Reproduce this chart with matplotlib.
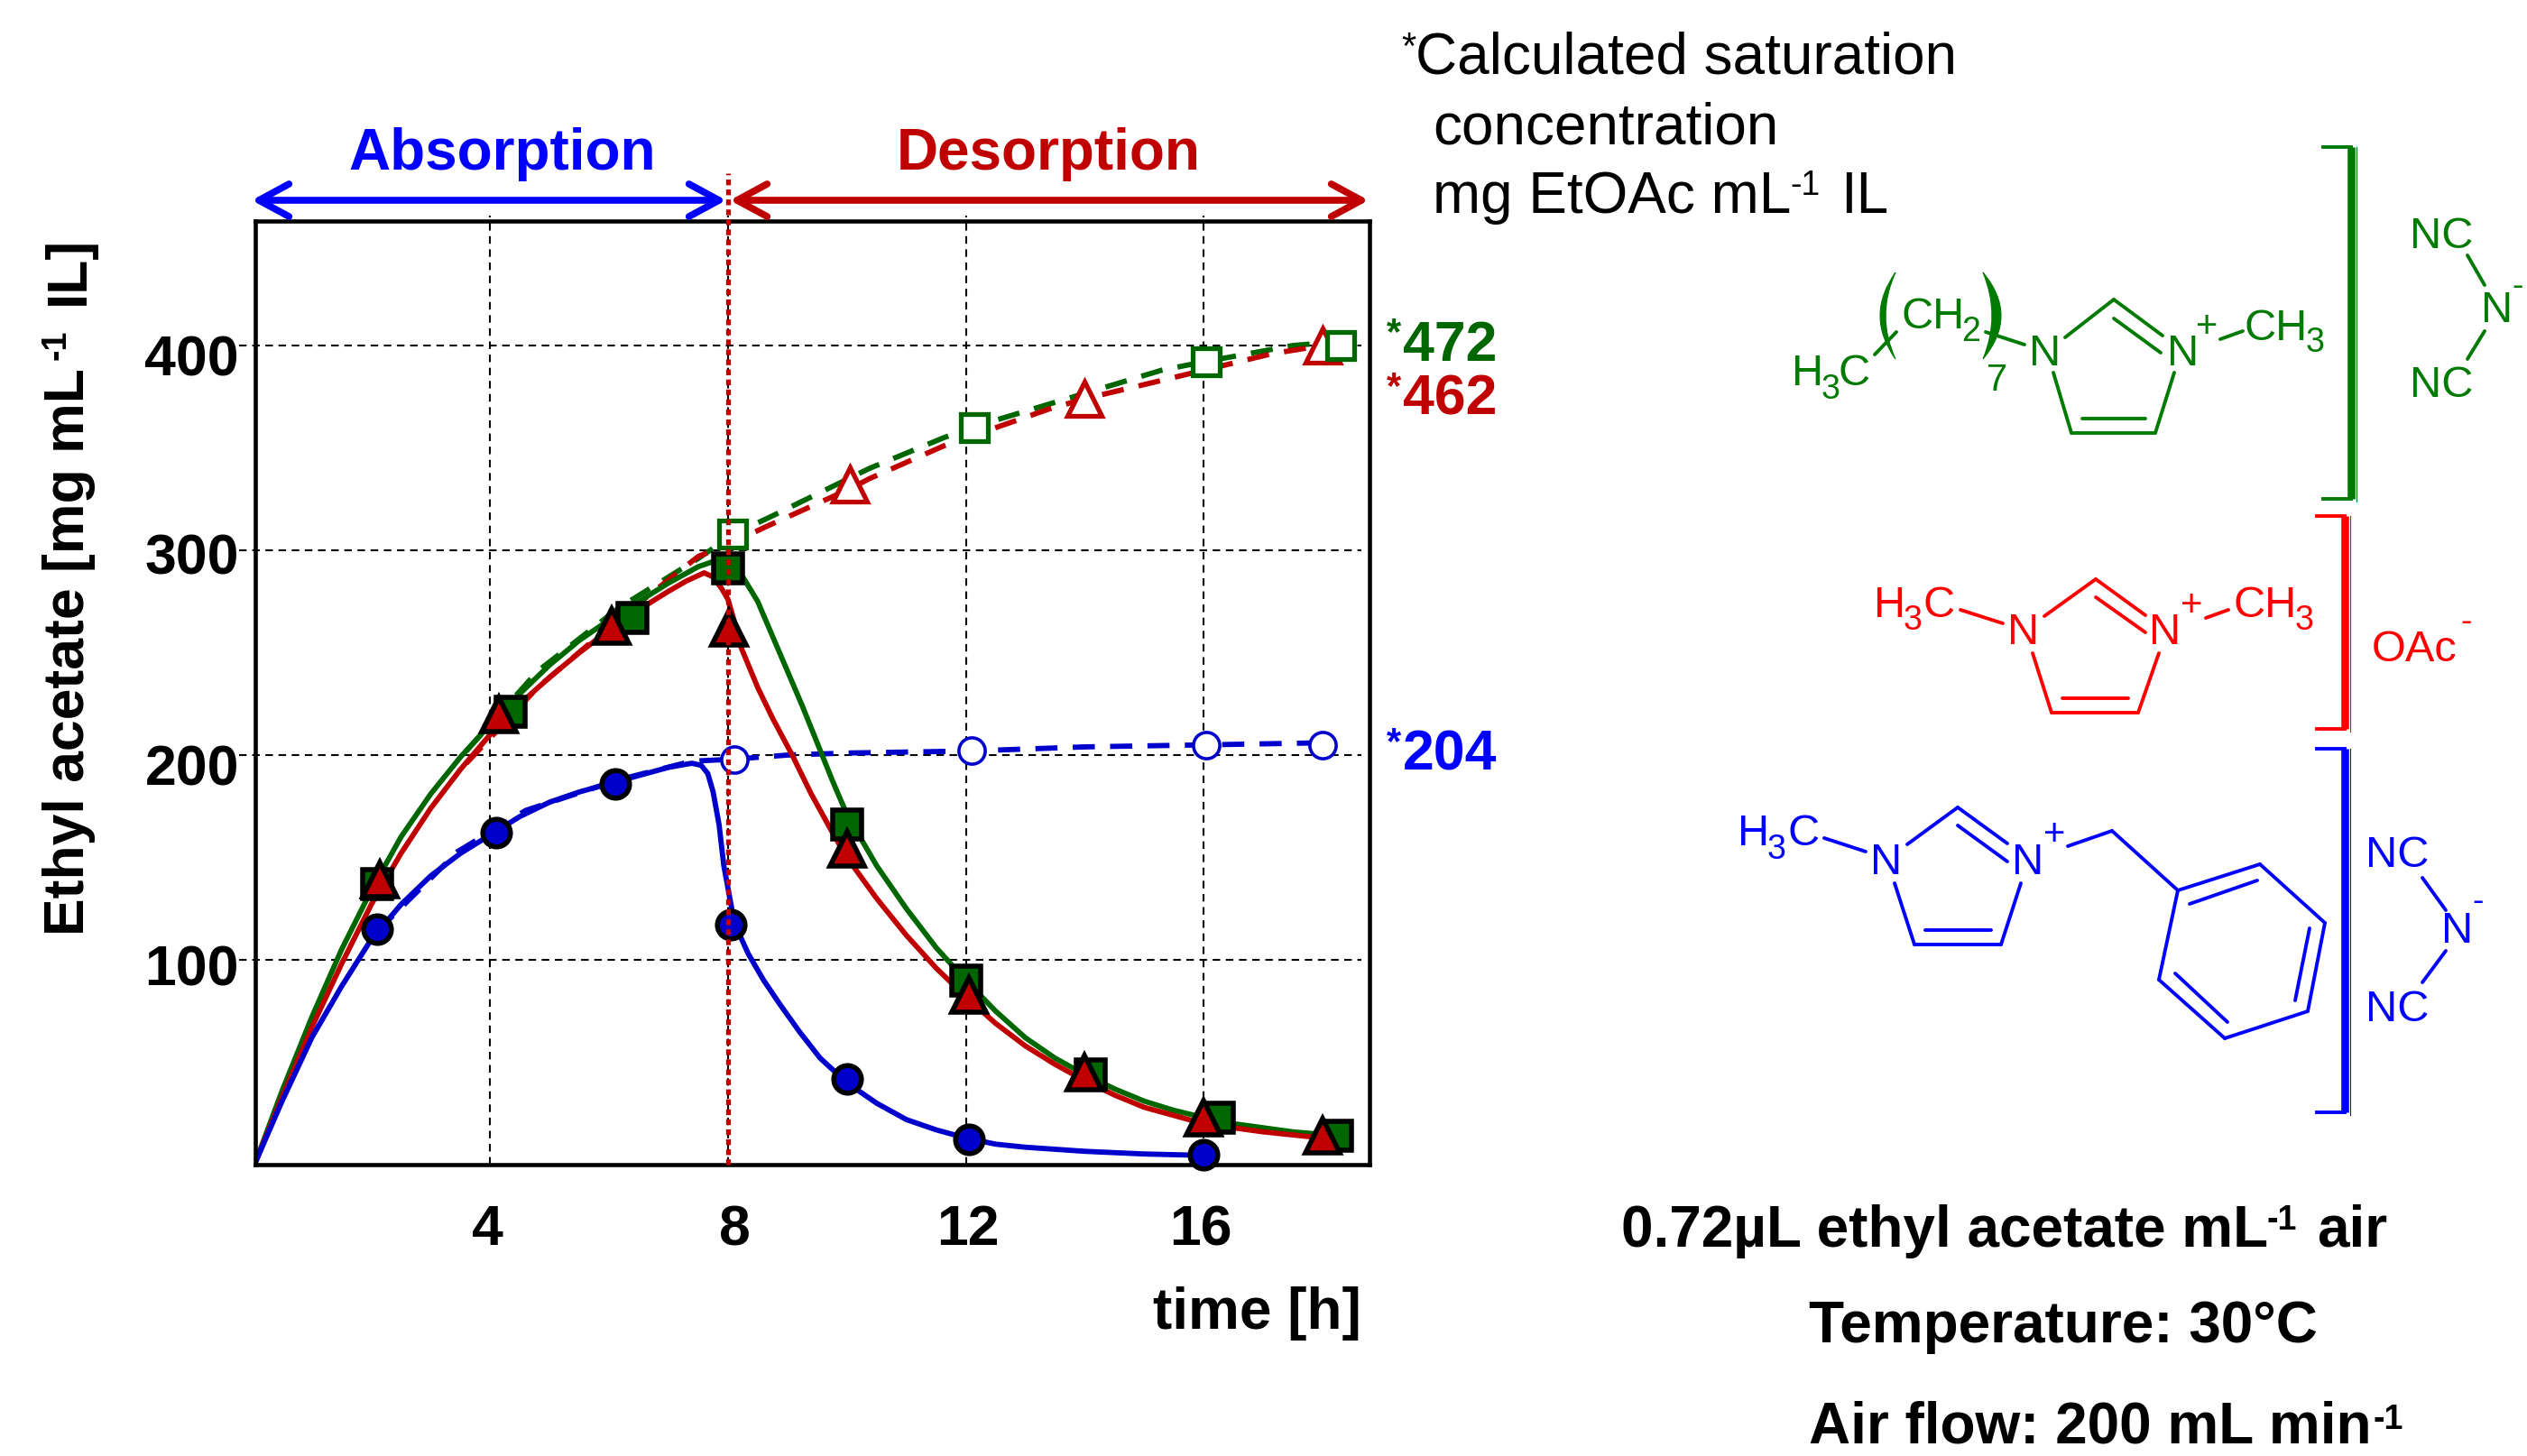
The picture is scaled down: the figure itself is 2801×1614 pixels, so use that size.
import matplotlib
matplotlib.use("Agg")
import matplotlib.pyplot as plt
from matplotlib.path import Path
from matplotlib.patches import PathPatch
from matplotlib.transforms import ScaledTranslation

plt.rcParams["font.family"] = ["Liberation Sans", "DejaVu Sans"]

W, H = 2801, 1614
GREEN, RED, BLUE = "#006600", "#c00000", "#0000cc"

# solid curves
green_x = [0.05, 0.5, 1, 1.5, 2, 2.5, 3, 3.5, 4, 4.5, 5, 5.5, 6, 6.5, 7, 7.5, 7.8, 8, 8.25, 8.5, 8.75, 9, 9.25, 9.5,
           9.75, 10, 10.5, 11, 11.5, 12, 12.5, 13, 13.5, 14, 14.5, 15, 15.5, 16, 16.5, 17, 17.5, 18.3]
green_y = [1, 36, 72, 105, 134, 160, 181, 199, 215, 230, 244, 256, 266, 275, 284, 292, 295, 294, 287, 275, 258, 241,
           224, 206, 188, 171, 146, 125, 106, 90, 75, 62, 52, 44, 37, 31, 26.5, 23, 20, 18, 16, 14]
red_x = [0.05, 0.5, 1, 1.5, 2, 2.5, 3, 3.5, 4, 4.5, 5, 5.5, 6, 6.5, 7, 7.3, 7.6, 7.75, 7.9, 8, 8.1, 8.2, 8.5, 8.75,
         9.08, 9.4, 9.76, 10, 10.5, 11, 11.5, 12, 12.5, 13, 13.5, 14, 14.5, 15, 15.5, 16, 16.5, 17, 17.5, 18]
red_y = [1, 33, 67, 98, 127, 152, 174, 193, 210, 225, 238, 250, 261, 271, 280, 285, 289, 287, 281, 276, 266, 254,
         233, 218, 200, 181, 162, 150, 130, 112, 96, 82, 69, 58, 49, 41, 34, 28, 24, 20, 18, 16, 14.5, 13]
blue_x = [0.05, 0.5, 1, 1.5, 2, 2.5, 3, 3.5, 4, 4.5, 5, 5.5, 6, 6.5, 7, 7.39, 7.55, 7.66, 7.75, 7.85, 7.93, 8.07,
          8.2, 8.34, 8.6, 8.88, 9.2, 9.55, 10, 10.5, 11, 11.5, 12, 12.5, 13, 14, 15, 16]
blue_y = [1, 31, 62, 87, 110, 127, 141, 152, 161, 170, 177, 182, 186, 190, 194, 196, 195, 191, 182, 166, 146, 124,
          112, 103, 90, 78, 65, 52, 40, 30, 22, 17, 13, 10, 8.5, 6.5, 5.2, 4.5]

# dashed curves (saturation runs)
dgreen_x = [3.6, 4.8, 6.17, 7.5, 8.1, 8.69, 10.38, 11.63, 12.1, 13.47, 15.3, 16, 17.5, 18.3]
dgreen_y = [202, 241, 272, 296, 308, 316, 340, 355, 360, 372, 388, 392, 400, 402]
dred_x = [3.6, 4.8, 6.1, 7.5, 8.1, 8.6, 10.05, 10.38, 11.63, 13.4, 14, 15.3, 17.15, 18]
dred_y = [196, 233, 265, 297, 304, 311, 330, 335, 351, 369, 374, 383, 396, 400]
dblue_x = [2.1, 3.46, 4.6, 6.17, 7.39, 8.1, 9, 10, 12.1, 14, 16.05, 18]
dblue_y = [114, 153, 173, 188, 197, 198, 200, 201, 202, 204, 205, 206]

# markers, filled
msq_x = [2.1, 4.35, 6.4, 8, 10, 12, 14.1, 16.25, 18.25]
msq_y = [137, 221, 267, 291, 166, 90, 44, 23, 14]
mtri_x = [2.15, 4.15, 6.05, 8.02, 10, 12.05, 14, 16, 18]
mtri_y = [139, 220, 263, 262, 154, 83, 45, 23, 14]
mcir_x = [2.1, 4.1, 6.1, 8.05, 10, 12.05, 16]
mcir_y = [115, 162, 186, 117, 42, 12.5, 5]

# markers, open
osq_x = [8.08, 12.15, 16.05, 18.3]
osq_y = [308, 360, 392, 400]
otri_x = [10.05, 14, 18]
otri_y = [332, 374, 400]
ocir_x = [8.1, 12.1, 16.05, 18]
ocir_y = [198, 202, 205, 205]

x_ticks = [4, 8, 12, 16]
y_ticks = [100, 200, 300, 400]
x_shift = [-3, 7, 2, -3]
y_shift = [5, 10, 3, 10]

fig = plt.figure(figsize=(W / 100, H / 100), dpi=100)
L, R, T, B = 283, 1518, 245, 1291
ax = fig.add_axes([L / W, 1 - B / H, (R - L) / W, (B - T) / H])
ax.set_xlim(0.05, 18.79)
ax.set_ylim(0, 460.8)
for s in ax.spines.values():
    s.set_linewidth(3.3)
    s.set_zorder(3)

ax.set_xticks(x_ticks)
ax.set_yticks(y_ticks)
ax.tick_params(length=0, labelsize=45, labelcolor="black")
ax.tick_params(axis="x", pad=31)
ax.tick_params(axis="y", pad=13)
for lab in ax.get_xticklabels() + ax.get_yticklabels():
    lab.set_fontweight("bold")
for lab, dx in zip(ax.get_xticklabels(), x_shift):
    lab.set_transform(lab.get_transform() + ScaledTranslation(dx / 100, 0, fig.dpi_scale_trans))
for lab, dy in zip(ax.get_yticklabels(), y_shift):
    lab.set_transform(lab.get_transform() + ScaledTranslation(0, -dy / 100, fig.dpi_scale_trans))

# grid pokes a little outside the frame
for v in x_ticks:
    ax.plot([v, v], [0, 463.5], color="k", lw=1.5, ls=(0, (4, 3)), clip_on=False, zorder=1)
for v in y_ticks:
    ax.plot([-0.22, 18.66], [v, v], color="k", lw=1.5, ls=(0, (4, 3)), clip_on=False, zorder=1)

ax.plot(dgreen_x, dgreen_y, color=GREEN, lw=4.2, ls=(0, (4.2, 2.9)), zorder=2)
ax.plot(dred_x, dred_y, color=RED, lw=4.2, ls=(0, (4.2, 2.9)), zorder=2)
ax.plot(dblue_x, dblue_y, color=BLUE, lw=4.2, ls=(0, (4.2, 2.9)), zorder=2)
ax.plot(green_x, green_y, color=GREEN, lw=4.2, zorder=2.2)
ax.plot(red_x, red_y, color=RED, lw=4.2, zorder=2.3)
ax.plot(blue_x, blue_y, color=BLUE, lw=4.2, zorder=2.4)

ax.plot(osq_x, osq_y, ls="", marker="s", ms=22, mfc="white", mec=GREEN, mew=3.8, zorder=4)
ax.plot(otri_x, otri_y, ls="", marker="^", ms=27, mfc="white", mec=RED, mew=3.8, zorder=3.9)
ax.plot(ocir_x, ocir_y, ls="", marker="o", ms=21, mfc="white", mec=BLUE, mew=2.6, zorder=4)
ax.plot(msq_x, msq_y, ls="", marker="s", ms=23, mfc=GREEN, mec="k", mew=4, zorder=4.1, clip_on=False)
ax.plot(mtri_x, mtri_y, ls="", marker="^", ms=28, mfc=RED, mec="k", mew=4, zorder=4.2, clip_on=False)
ax.plot(mcir_x, mcir_y, ls="", marker="o", ms=22, mfc=BLUE, mec="k", mew=4, zorder=4.2, clip_on=False)

# absorption/desorption switch
ax.plot([8, 8], [0, 484], color=RED, lw=3.8, ls=(0, (1.2, 0.9)), clip_on=False, zorder=5)

# everything around the plot is placed in pixels of the picture
ov = fig.add_axes([0, 0, 1, 1], zorder=10)
ov.set_xlim(0, W)
ov.set_ylim(H, 0)
ov.axis("off")


def txt(x, y, s, size=46, color="k", weight="normal", ha="left", rot=0):
    ov.text(x, y, s, fontsize=size, color=color, fontweight=weight, ha=ha, va="baseline",
            rotation=rot, rotation_mode="anchor")


def bonds(segs, color, lw=2.8):
    for a, b, c, d in segs:
        ov.plot([a, c], [b, d], color=color, lw=lw, solid_capstyle="round")


def bracket(x, top, bot, left, color):
    ov.plot([left, x, x, left], [top, top, bot, bot], color=color, lw=2.8, solid_joinstyle="miter")
    ov.plot([x, x], [top, bot], color=color, lw=6.2, solid_capstyle="butt")
    ov.plot([x + 6, x + 6], [top, bot + 3], color=color, lw=0.8)


# y label and x label
txt(93, 1037, "Ethyl acetate [mg mL", 45, weight="bold", rot=90)
txt(73, 399, "-1", 27, weight="bold", rot=90)
txt(93, 338, "IL]", 45, weight="bold", rot=90)
txt(1509, 1473, "time [h]", 46, weight="bold", ha="right")

# phases
txt(557, 188, "Absorption", 46, "#0000ff", "bold", ha="center")
txt(1162, 188, "Desorption", 46, RED, "bold", ha="center")
ov.annotate("", xy=(805, 222), xytext=(279, 222),
            arrowprops=dict(arrowstyle="<->,head_length=24,head_width=13", color="#0000ff", lw=5.5,
                            mutation_scale=1, shrinkA=0, shrinkB=0))
ov.annotate("", xy=(1517, 222), xytext=(809, 222),
            arrowprops=dict(arrowstyle="<->,head_length=24,head_width=13", color=RED, lw=5.5,
                            mutation_scale=1, shrinkA=0, shrinkB=0))

# saturation values
for s, ybase, col in [("472", 400, GREEN), ("462", 460, RED), ("204", 854, "#0000ff")]:
    txt(1537, ybase - 19, "*", 30, col, "bold")
    txt(1555, ybase, s, 45, col, "bold")

# note top right
txt(1553, 65, "*", 30)
txt(1569, 82, "Calculated saturation", 46)
txt(1588, 160, "concentration", 46)
txt(1588, 236, "mg EtOAc mL", 46)
txt(1984, 216, "-1", 27)
txt(2040, 236, "IL", 46)

# conditions
txt(1797, 1382, "0.72\u00b5L ethyl acetate mL", 46, weight="bold")
txt(2513, 1363, "-1", 27, weight="bold")
txt(2568, 1382, "air", 46, weight="bold")
txt(2005, 1488, "Temperature: 30\u00b0C", 46, weight="bold")
txt(2005, 1600, "Air flow: 200 mL min", 46, weight="bold")
txt(2630, 1584, "-1", 27, weight="bold")

# octyl cation, green
G = "#007a00"
bracket(2606, 163, 553, 2575, G)
bonds([(2289, 374, 2343, 332), (2343, 332, 2397, 372), (2343, 353, 2395, 391), (2410, 413, 2389, 480),
       (2389, 480, 2296, 480), (2308, 464, 2378, 464), (2296, 480, 2276, 413), (2461, 376, 2486, 367),
       (2078, 393, 2102, 368), (2201, 368, 2244, 382),
       (2735, 283, 2754, 316), (2754, 367, 2735, 398)], G)
for p in ([(2101, 302), (2067, 350), (2101, 398), (2079, 350), (2101, 302)],
          [(2198, 302), (2238, 350), (2198, 398), (2218, 350), (2198, 302)]):
    ov.add_patch(PathPatch(Path(p, [Path.MOVETO, Path.CURVE3, Path.CURVE3, Path.CURVE3, Path.CURVE3]),
                           fc=G, ec=G, lw=0.8))
txt(1986, 427, "H", 35, G)
txt(2019, 442, "3", 27, G)
txt(2038, 427, "C", 35, G)
txt(2107, 364, "CH", 35, G)
txt(2174, 378, "2", 27, G)
txt(2213, 433, "7", 30, G, ha="center")
txt(2267, 405, "N", 35, G, ha="center")
txt(2420, 405, "N", 35, G, ha="center")
txt(2446, 374, "+", 30, G, ha="center")
txt(2488, 377, "CH", 35, G)
txt(2556, 390, "3", 27, G)
txt(2671, 275, "NC", 35, G)
txt(2671, 440, "NC", 35, G)
txt(2768, 357, "N", 35, G, ha="center")
txt(2791, 328, "-", 27, G, ha="center")

# dimethyl cation, red
C = "#ff0000"
bracket(2599, 572, 808, 2568, C)
bonds([(2266, 683, 2323, 642), (2323, 642, 2378, 682), (2323, 662, 2378, 701), (2393, 724, 2370, 790),
       (2370, 790, 2274, 790), (2286, 774, 2359, 774), (2274, 790, 2253, 724), (2173, 676, 2220, 691),
       (2445, 685, 2470, 676)], C)
txt(2077, 684, "H", 35, C)
txt(2110, 698, "3", 27, C)
txt(2131, 684, "C", 35, C)
txt(2243, 714, "N", 35, C, ha="center")
txt(2400, 714, "N", 35, C, ha="center")
txt(2429, 683, "+", 30, C, ha="center")
txt(2475, 684, "CH", 35, C)
txt(2544, 698, "3", 27, C)
txt(2629, 733, "OAc", 35, C)
txt(2734, 700, "-", 27, C, ha="center")

# benzyl cation, blue
K = "#0000ff"
bracket(2599, 830, 1233, 2568, K)
bonds([(2114, 936, 2170, 895), (2170, 895, 2225, 935), (2170, 915, 2225, 955), (2240, 979, 2218, 1047),
       (2218, 1047, 2122, 1047), (2134, 1031, 2207, 1031), (2122, 1047, 2100, 979), (2022, 929, 2068, 944),
       (2292, 938, 2341, 921), (2341, 921, 2414, 987),
       (2414, 987, 2505, 958), (2505, 958, 2577, 1023), (2577, 1023, 2558, 1121), (2558, 1121, 2466, 1151),
       (2466, 1151, 2393, 1086), (2393, 1086, 2414, 987),
       (2427, 1002, 2502, 976), (2560, 1029, 2544, 1109), (2469, 1133, 2411, 1079),
       (2685, 973, 2711, 1009), (2711, 1054, 2685, 1089)], K)
txt(1926, 937, "H", 35, K)
txt(1959, 952, "3", 27, K)
txt(1981, 937, "C", 35, K)
txt(2091, 969, "N", 35, K, ha="center")
txt(2248, 969, "N", 35, K, ha="center")
txt(2277, 937, "+", 30, K, ha="center")
txt(2622, 961, "NC", 35, K)
txt(2622, 1132, "NC", 35, K)
txt(2724, 1045, "N", 35, K, ha="center")
txt(2747, 1010, "-", 27, K, ha="center")

fig.savefig("out.png", dpi=100)
